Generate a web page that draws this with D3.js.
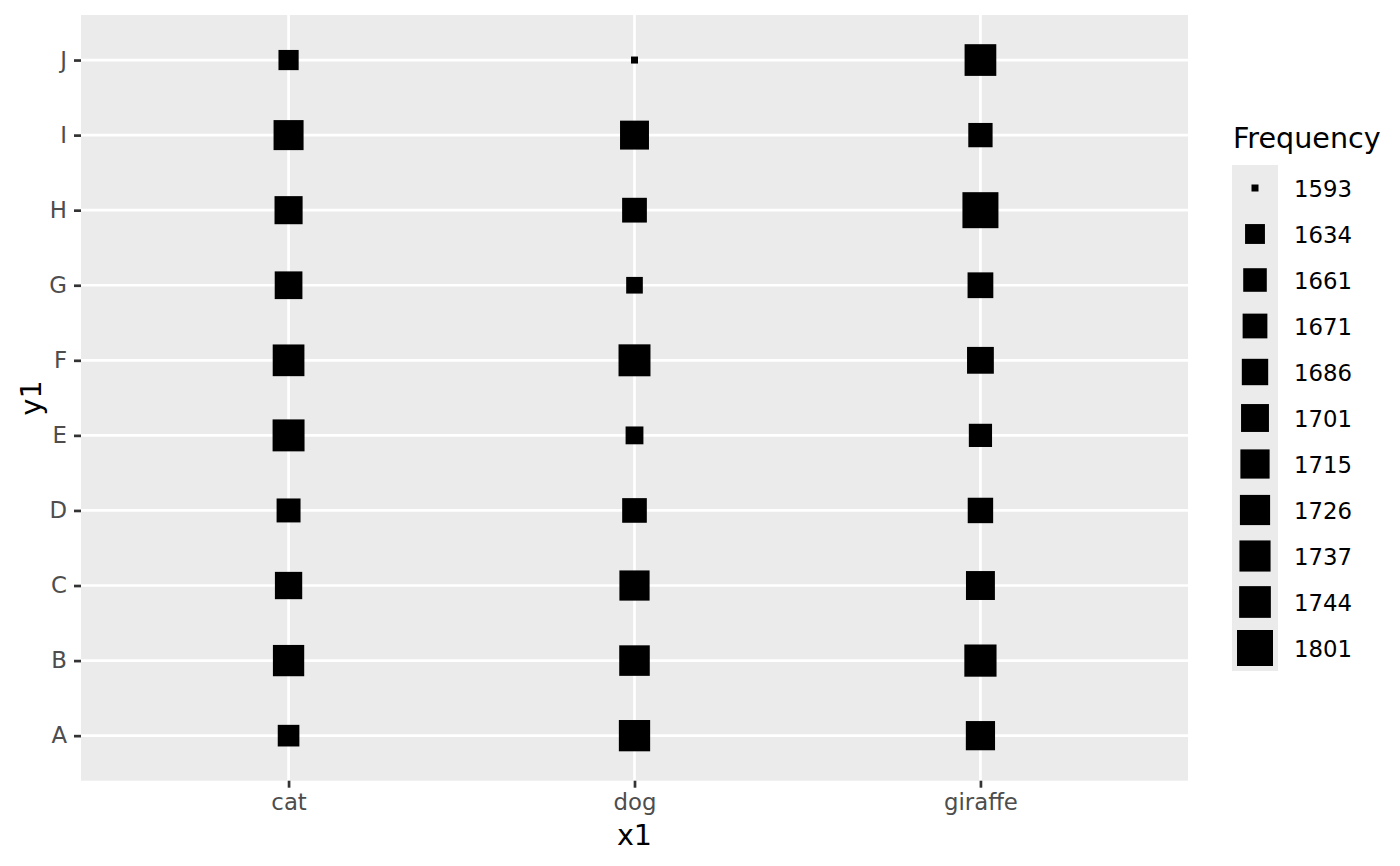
<!DOCTYPE html>
<html>
<head>
<meta charset="utf-8">
<script src="https://cdn.jsdelivr.net/npm/d3@7"></script>
<style>
  html, body { margin: 0; padding: 0; background: #ffffff; }
  svg { display: block; font-family: "DejaVu Sans", sans-serif; }
</style>
</head>
<body>
<svg id="chart" width="1400" height="866"></svg>
<script>
// ---- data ----
const xCategories = ["cat", "dog", "giraffe"];
const yCategories = ["A", "B", "C", "D", "E", "F", "G", "H", "I", "J"];
// frequencies per y level (A..J) for each x category
const freqCat     = [1646, 1739, 1695, 1664, 1747, 1744, 1699, 1703, 1724, 1636];
const freqDog     = [1739, 1730, 1726, 1670, 1622, 1747, 1616, 1671, 1712, 1593];
const freqGiraffe = [1715, 1750, 1712, 1677, 1658, 1690, 1680, 1801, 1667, 1744];
const legendBreaks = [1593, 1634, 1661, 1671, 1686, 1701, 1715, 1726, 1737, 1744, 1801];
const xTitle = "x1", yTitle = "y1", legendTitle = "Frequency";

const seriesByX = { cat: freqCat, dog: freqDog, giraffe: freqGiraffe };
const cells = [];
xCategories.forEach(xc => {
  seriesByX[xc].forEach((v, i) => cells.push({ x: xc, y: yCategories[i], v }));
});

// ---- layout ----
const svg = d3.select("#chart");
const panel = { left: 81, right: 1188, top: 15, bottom: 780.7 };
const tickFont = 22.8, titleFont = 28.6;

const x = d3.scalePoint().domain(xCategories).range([panel.left, panel.right]).padding(0.6);
const y = d3.scalePoint().domain(yCategories).range([panel.bottom, panel.top]).padding(0.6);

const allVals = cells.map(d => d.v);
const vMin = d3.min(allVals.concat(legendBreaks)), vMax = d3.max(allVals.concat(legendBreaks));
// ggplot area palette: size = 1 + 5*sqrt(rescaled)
const sizeScale = d3.scaleSqrt().domain([0, vMax - vMin]).range([1, 6]);
const side = v => 5.8 * sizeScale(v - vMin) + 1.2;

// panel background
svg.append("rect")
  .attr("x", panel.left).attr("y", panel.top)
  .attr("width", panel.right - panel.left).attr("height", panel.bottom - panel.top)
  .attr("fill", "#EBEBEB");

// gridlines
svg.append("g").selectAll("line").data(yCategories).join("line")
  .attr("x1", panel.left).attr("x2", panel.right)
  .attr("y1", d => y(d)).attr("y2", d => y(d))
  .attr("stroke", "#ffffff").attr("stroke-width", 2.7);
svg.append("g").selectAll("line").data(xCategories).join("line")
  .attr("y1", panel.top).attr("y2", panel.bottom)
  .attr("x1", d => x(d)).attr("x2", d => x(d))
  .attr("stroke", "#ffffff").attr("stroke-width", 2.7);

// squares
svg.append("g").selectAll("rect").data(cells).join("rect")
  .attr("x", d => x(d.x) - side(d.v) / 2)
  .attr("y", d => y(d.y) - side(d.v) / 2)
  .attr("width", d => side(d.v))
  .attr("height", d => side(d.v))
  .attr("fill", "#000000");

// axes
const yAxis = d3.axisLeft(y).tickSize(7).tickPadding(7);
const gy = svg.append("g").attr("transform", `translate(${panel.left},0)`).call(yAxis);
const xAxis = d3.axisBottom(x).tickSize(7).tickPadding(6.2);
const gx = svg.append("g").attr("transform", `translate(0,${panel.bottom})`).call(xAxis);
[gy, gx].forEach(g => {
  g.select(".domain").remove();
  g.selectAll(".tick line").attr("stroke", "#333333").attr("stroke-width", 2.7);
  g.selectAll(".tick text").attr("fill", "#4D4D4D")
    .style("font-size", tickFont + "px").style("font-family", "DejaVu Sans, sans-serif");
});

// axis titles
svg.append("text")
  .attr("x", (panel.left + panel.right) / 2).attr("y", 845)
  .attr("text-anchor", "middle").style("font-size", titleFont + "px")
  .attr("fill", "#000").text(xTitle);
svg.append("text")
  .attr("transform", `translate(40.7,${(panel.top + panel.bottom) / 2}) rotate(-90)`)
  .attr("text-anchor", "middle").style("font-size", titleFont + "px")
  .attr("fill", "#000").text(yTitle);

// legend
const legend = svg.append("g");
const keyX = 1232, keyW = 46, keyTop = 165, keyH = 46;
legend.append("text")
  .attr("x", 1233).attr("y", 148)
  .style("font-size", titleFont + "px").attr("fill", "#000").text(legendTitle);
legend.append("rect")
  .attr("x", keyX).attr("y", keyTop)
  .attr("width", keyW).attr("height", keyH * legendBreaks.length)
  .attr("fill", "#EBEBEB");
const keys = legend.selectAll("g.key").data(legendBreaks).join("g")
  .attr("class", "key")
  .attr("transform", (d, i) => `translate(${keyX + keyW / 2},${keyTop + keyH * i + keyH / 2})`);
keys.append("rect")
  .attr("x", d => -side(d) / 2).attr("y", d => -side(d) / 2)
  .attr("width", d => side(d)).attr("height", d => side(d))
  .attr("fill", "#000");
keys.append("text")
  .attr("x", 1294 - (keyX + keyW / 2)).attr("dy", "0.38em")
  .style("font-size", tickFont + "px").attr("fill", "#000")
  .text(d => d);
</script>
</body>
</html>
